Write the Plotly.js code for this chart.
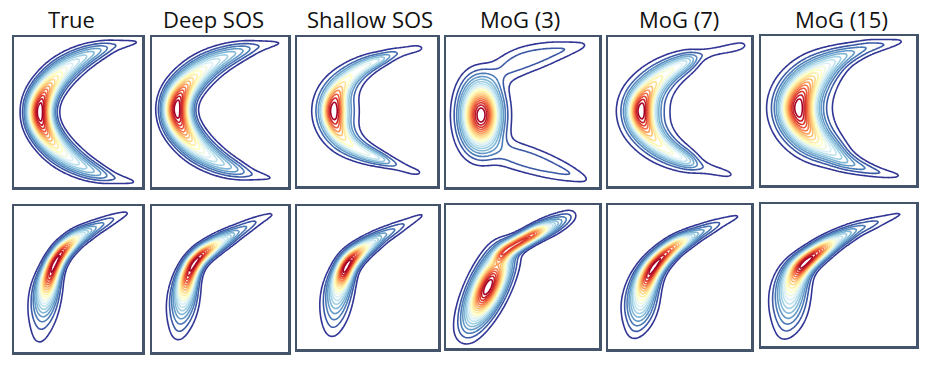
<!DOCTYPE html>
<html><head><meta charset="utf-8">
<script src="https://cdn.plot.ly/plotly-3.0.1.min.js"></script>
<style>html,body{margin:0;padding:0;background:#fff}#chart{width:938px;height:375px}</style>
</head><body><div id="chart"></div>
<script>
// ---------------- DATA ----------------
const titles = ['True', 'Deep SOS', 'Shallow SOS', 'MoG (3)', 'MoG (7)', 'MoG (15)'];

// Density ridges: each knot = [x, y, ridge height (fraction of peak), across width], panel pixel units
const trueTop = [[130,4.5,.02,2.5],[124,5,.045,3],[116,6,.06,3.5],[107,7.5,.075,4],[98,9,.1,4.8],[86,13,.19,5.5],[76,17,.26,6.3],[66,22,.32,7],[55,29,.4,7.6],[45,37,.5,8],[37,46,.6,8],[30,56,.76,8],[26,65,.9,8],[25,75,1,8],
  [26,85,.9,8],[30,94,.76,8],[37,104,.6,8],[45,113,.5,8],[55,121,.4,7.6],[66,128,.32,7],[76,133,.26,6.3],[86,137,.19,5.5],[97,140.5,.1,4.8],[106,142.5,.075,4],[114,144,.06,3.5],[121,145,.045,3],[126,146,.02,2.5]];
const deepTop = [[134,5.5,.02,2.5],[128,6,.045,3],[120,7,.06,3.5],[112,8.2,.075,4.2],[103,10,.1,5],[90,13.5,.19,5.8],[79,17.3,.26,6.6],[68,22,.32,7.3],[56,28.6,.4,8],[46,36,.5,8.5],[37,44.7,.6,8.6],[29.4,54,.76,8.6],[25,62.6,.9,8.6],[24,72,1,8.6],
  [25,82,.9,8.6],[29,91,.76,8.6],[36,100.6,.6,8.6],[44,109.5,.5,8.5],[54,117.4,.4,8],[65,124.3,.32,7.3],[75,129.2,.26,6.6],[85,133.1,.19,5.8],[96,136.6,.1,5],[104,138.5,.075,4.2],[112,139.8,.06,3.5],[119,141,.045,3],[125,142,.02,2.5]];
const shallowTop = [[131,10.5,.02,3],[126,11,.085,4.2],[119,11.5,.1,4.5],[108,14,.1,4],[98,16.5,.15,3.8],[93,18.5,.21,3.8],[88,20.5,.28,3.8],[82,23,.36,3.8],[76,25,.44,4.2],[68,29,.46,4.8],[58,35,.48,5.5],[48,44,.52,6.5],[42,52,.7,7.2],[37,62,.88,7.5],[35,74,1,7.5],
  [37,86,.88,7.5],[42,96,.7,7.2],[48,104,.52,6.5],[58,111,.48,5.5],[68,116,.46,4.8],[78,120,.42,4.2],[84,122,.34,3.8],[90,124.5,.25,3.8],[96,126.5,.16,3.8],[104,129.5,.11,4],[112,133,.1,4.2],[119,135,.095,4],[124,136,.08,3.6],[128,137,.02,3]];
const shallowTopCore = [[44,68,.25,8.5],[45,74,.4,8.5],[44,80,.25,8.5]];
const mog3TopCenter = [[35,38,.06,12.5],[35,53,.33,12.5],[35,66,.78,12.5],[35,78,1,12.5],[35,90,.78,12.5],[35,103,.33,12.5],[35,118,.06,12.5]];
const mog3TopUpper = [[50,38,.06,10],[62,30,.1,10],[77,23,.11,9.5],[92,19,.105,9],[106,15,.09,8],[120,12,.075,6],[134,9,.055,4],[142,7,.025,3]];
const mog3TopLower = [[50,112,.06,10],[62,117,.1,10],[77,121,.11,9.5],[92,126,.105,9],[107,131,.095,8.5],[122,136,.08,6.5],[136,141,.055,4.5],[143,144,.025,3]];
const mog7Top = [[141,7,.02,3],[137,8,.075,4],[126,10.5,.09,4.5],[116,12.5,.08,4],[106,14.5,.08,3.8],[96,17,.09,4],[88,20,.12,4.5],[84,22,.25,5],[78,25,.4,5.5],[68,30,.46,6],[58,36,.5,6.8],[48,44,.56,7.5],[40,54,.7,8],[33,63,.86,8],[31,74,1,8],
  [33,85,.86,8],[40,95,.7,8],[47,104,.56,7.5],[57,112,.5,6.8],[67,118,.46,6],[78,123,.4,5.5],[84,126,.25,5],[89,128.5,.12,4.8],[100,132,.09,4.5],[112,135,.085,4],[122,137.5,.075,3.5],[128,139,.02,3]];
const mog7TopCore = [[40,68,.2,8.5],[41,74,.32,8.5],[40,80,.2,8.5]];
const mog15Top = [[145,5,.02,2.5],[139,5.5,.05,3],[132,7,.065,3.5],[120,9,.09,4.2],[108,11,.12,5],[96,15,.15,5.5],[85,19,.2,6],[76,23,.26,6.8],[67,29,.33,8],[57,36,.43,9.5],[48,45,.57,10.5],[41,55,.72,11.2],[37,63,.87,11.5],[35,72,1,11.5],
  [37,81,.87,11.5],[41,89,.72,11.2],[48,99,.57,10.5],[57,107,.43,9.5],[69,114,.33,8],[82,124,.22,6],[96,130,.15,5],[112,135,.1,4],[125,138,.07,3.5],[136,139.5,.05,3],[143,140,.02,2.5]];

const trueBottom = [[119,4.5,.03,3],[101,12,.09,4],[80,22,.2,4.7],[62,32,.5,5],[48,45,.92,5],[40,58,1,5.2],[35,72,.9,6],[32,85,.65,7.5],[30,98,.38,8],[29,106,.25,8.5],[28,114,.15,9],[27,122,.09,9],[25,134,.06,8],[24,141,.025,6]];
const deepBottom = [[127,5,.03,3],[105,15,.09,4],[85,26,.2,4.7],[66,37,.5,5],[50,48,.92,5],[41,58,1,5.2],[35,72,.88,6],[32,88,.6,7.5],[30,104,.3,8.5],[28,118,.13,8.5],[26,129,.07,7],[25,136,.03,6]];
const shallowBottom = [[133,5,.03,3],[108,18,.09,4],[85,30,.22,4.8],[67,42,.55,5.2],[55,52,.95,5.5],[49,60,1,5.7],[46,68,.95,6],[42,80,.6,7.5],[39,96,.32,8.7],[37,112,.15,9],[35,124,.075,8],[34,133,.03,6]];
const mog3BottomA = [[16,137,.04,9.5],[22.7,122.5,.16,9.5],[29.1,109,.43,9.5],[35.6,95.5,.81,9.5],[42,82,1,9.5],[48.5,68.5,.81,9.5],[54.9,55,.43,9.5],[61.4,41.5,.15,9.5]];
const mog3BottomB = [[50,55,.25,4.5],[60,45,.6,4.5],[72,38,.78,4.5],[88,29,.76,4.5],[100,23,.45,5],[113,17,.2,5.5],[130,8,.04,5]];
const mog7Bottom = [[138,8,.03,3],[112,18,.09,4],[88,29,.25,4.7],[68,40,.7,5],[55,51,.92,5.5],[45,62,1,6],[38,75,.9,7],[34,88,.6,8.5],[32,100,.48,9.5],[30,112,.22,9.5],[28,124,.09,8.5],[23,134,.03,6]];
const mog15Bottom = [[150,6,.03,3],[122,16,.08,4],[96,25,.18,4.8],[75,36,.42,5.2],[60,46,.82,5.5],[48,55,1,5.8],[38,64,.95,6.5],[32,75,.7,8.5],[29,88,.52,10],[28,102,.35,11],[27,116,.16,10.5],[24,128,.07,9],[20,136,.03,6]];

const topRidges = [[trueTop], [deepTop], [shallowTop, shallowTopCore], [mog3TopCenter, mog3TopUpper, mog3TopLower], [mog7Top, mog7TopCore], [mog15Top]];
const bottomRidges = [[trueBottom], [deepBottom], [shallowBottom], [mog3BottomA, mog3BottomB], [mog7Bottom], [mog15Bottom]];
const levelCountsTop = [19, 19, 13, 19, 16, 19];
const levelCountsBottom = [19, 19, 19, 19, 19, 19];
// share of a wider (2x) across profile, giving heavier outer tails
const tailTop = [0, 0, 0.2, 0, 0.2, 0.1];
const tailBottom = [0, 0, 0, 0, 0, 0];

// ---------------- LAYOUT (pixel boxes of the panels) ----------------
const FIG_W = 938, FIG_H = 375;
const boxesTop = [[14,37,142,187],[152,37,288,187],[297,37,437,186],[446,37,599,187],[608,37,751,186],[761,36,916,185]];
const boxesBottom = [[14,206,142,352],[152,206,288,352],[297,206,438,349],[446,205,599,348],[608,205,751,349],[761,204,916,346]];
const titleX = [71, 213, 370, 520, 679, 841];
const titleY = 19;

const colorscale = [[0,'#313695'],[0.1,'#4575b4'],[0.2,'#74add1'],[0.3,'#abd9e9'],[0.4,'#e0f3f8'],[0.5,'#ffffbf'],[0.6,'#fee090'],[0.7,'#fdae61'],[0.8,'#f46d43'],[0.9,'#d73027'],[1,'#a50026']];

function buildField(ridges, W, H, step, r) {
  const xs = [], ys = [];
  for (let x = 0; x <= W + 1e-9; x += step) xs.push(x);
  for (let y = 0; y <= H + 1e-9; y += step) ys.push(y);
  const z = ys.map(() => new Array(xs.length).fill(0));
  const c = 1 / Math.sqrt(2 * Math.PI);
  ridges.forEach(knots => {
    for (let i = 0; i < knots.length - 1; i++) {
      const [x0, y0, h0, w0] = knots[i], [x1, y1, h1, w1] = knots[i + 1];
      const len = Math.hypot(x1 - x0, y1 - y0);
      const n = Math.max(1, Math.ceil(len / 0.7));
      for (let j = 0; j < n; j++) {
        const t = (j + 0.5) / n;
        const cx = x0 + (x1 - x0) * t, cy = y0 + (y1 - y0) * t;
        const h = h0 + (h1 - h0) * t, w = w0 + (w1 - w0) * t;
        const wt = h * (len / n) * c / w;
        const rad = (r > 0 ? 9 : 4.5) * w, inv = 1 / (2 * w * w), inv2 = inv / 4;
        const ia = Math.max(0, Math.floor((cx - rad) / step)), ib = Math.min(xs.length - 1, Math.ceil((cx + rad) / step));
        const ja = Math.max(0, Math.floor((cy - rad) / step)), jb = Math.min(ys.length - 1, Math.ceil((cy + rad) / step));
        for (let jj = ja; jj <= jb; jj++) {
          const dy = ys[jj] - cy, row = z[jj];
          for (let ii = ia; ii <= ib; ii++) {
            const dx = xs[ii] - cx, d2 = dx * dx + dy * dy;
            let v = (1 - r) * Math.exp(-d2 * inv);
            if (r > 0) v += 0.5 * r * Math.exp(-d2 * inv2);
            row[ii] += wt * v;
          }
        }
      }
    }
  });
  let m = 0;
  z.forEach(row => row.forEach(v => { if (v > m) m = v; }));
  z.forEach(row => { for (let i = 0; i < row.length; i++) row[i] /= m; });
  return { xs, ys, z };
}

const data = [];
const layout = {
  width: FIG_W, height: FIG_H,
  margin: { l: 0, r: 0, t: 0, b: 0 },
  paper_bgcolor: '#ffffff', plot_bgcolor: '#ffffff',
  showlegend: false,
  annotations: []
};

function addPanel(idx, box, ridges, nLev, r) {
  const [x0, y0, x1, y1] = box;
  const W = x1 - x0, H = y1 - y0;
  const f = buildField(ridges, W, H, 1.5, r);
  const size = 1 / (nLev + 1);
  const suffix = idx === 0 ? '' : String(idx + 1);
  data.push({
    type: 'contour', x: f.xs, y: f.ys, z: f.z,
    xaxis: 'x' + suffix, yaxis: 'y' + suffix,
    autocontour: false,
    contours: { coloring: 'lines', start: size, end: nLev * size + 1e-6, size: size, showlabels: false },
    line: { width: 1.6, smoothing: 1 },
    colorscale: colorscale, zauto: false, zmin: size, zmax: nLev * size,
    showscale: false, hoverinfo: 'skip'
  });
  const axBase = { showgrid: false, zeroline: false, showticklabels: false, ticks: '',
    showline: true, mirror: true, linecolor: '#44546a', linewidth: 2.5, fixedrange: true };
  layout['xaxis' + suffix] = Object.assign({}, axBase, {
    domain: [x0 / FIG_W, x1 / FIG_W], range: [0, W], anchor: 'y' + suffix });
  layout['yaxis' + suffix] = Object.assign({}, axBase, {
    domain: [1 - y1 / FIG_H, 1 - y0 / FIG_H], range: [H, 0], anchor: 'x' + suffix });
}

for (let i = 0; i < 6; i++) addPanel(i, boxesTop[i], topRidges[i], levelCountsTop[i], tailTop[i]);
for (let i = 0; i < 6; i++) addPanel(i + 6, boxesBottom[i], bottomRidges[i], levelCountsBottom[i], tailBottom[i]);

titles.forEach((t, i) => {
  layout.annotations.push({
    text: t, xref: 'paper', yref: 'paper',
    x: titleX[i] / FIG_W, y: 1 - titleY / FIG_H, xanchor: 'center', yanchor: 'middle',
    showarrow: false, font: { family: 'Open Sans, sans-serif', size: 22, color: '#111111' }
  });
});

Plotly.newPlot('chart', data, layout, { displayModeBar: false, staticPlot: true });
</script></body></html>
